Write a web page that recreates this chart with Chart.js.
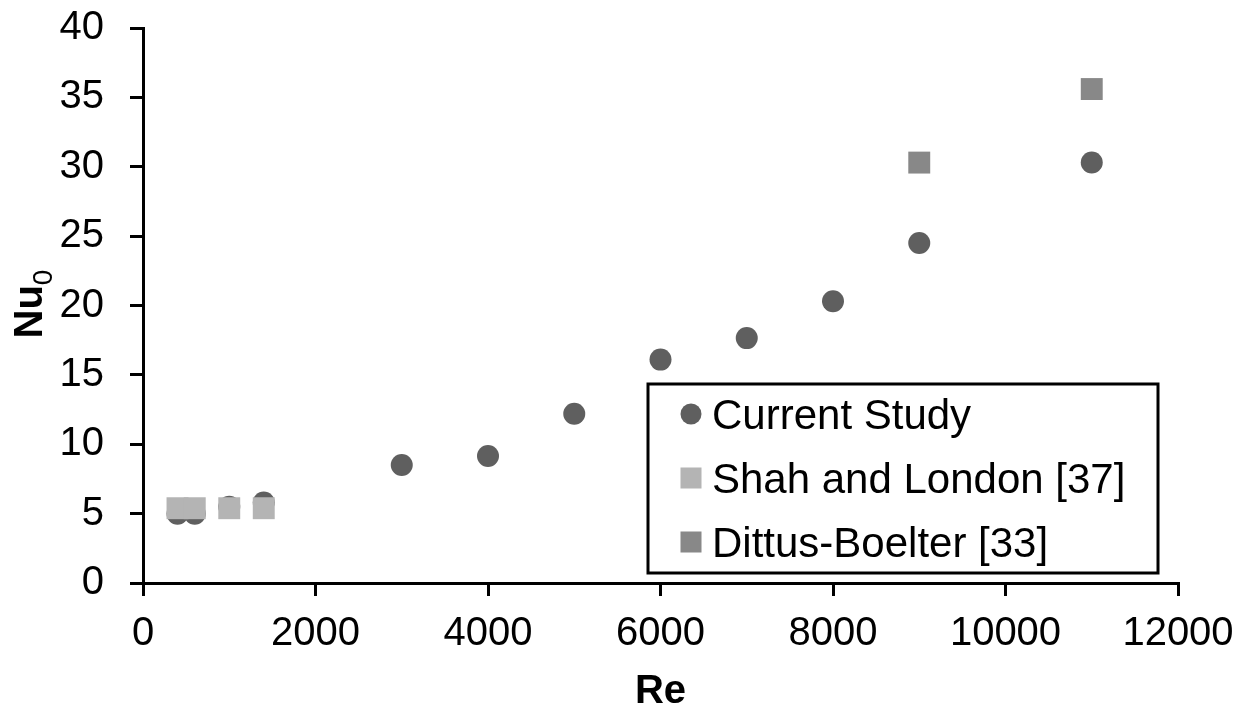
<!DOCTYPE html>
<html>
<head>
<meta charset="utf-8">
<script src="https://cdn.jsdelivr.net/npm/chart.js@4/dist/chart.umd.min.js"></script>
<style>
  html, body { margin: 0; padding: 0; background: #fff; }
  #wrap { width: 1248px; height: 708px; }
</style>
</head>
<body>
<div id="wrap"><canvas id="c"></canvas></div>
<script>
// Nu0 vs Re, three sources
const currentRe = [400, 600, 1000, 1400, 3000, 4000, 5000, 6000, 7000, 8000, 9000, 11000]
const currentNu = [5.0, 5.0, 5.5, 5.8, 8.5, 9.15, 12.2, 16.1, 17.65, 20.3, 24.5, 30.3]

const shahRe = [400, 600, 1000, 1400]
const shahNu = [5.39, 5.39, 5.39, 5.39]

const dittusRe = [9000, 11000]
const dittusNu = [30.3, 35.6]

const seriesLabels = ['Current Study', 'Shah and London [37]', 'Dittus-Boelter [33]']
const xTicks = [0, 2000, 4000, 6000, 8000, 10000, 12000]
const yTicks = [0, 5, 10, 15, 20, 25, 30, 35, 40]

const FONT = '"Liberation Sans", Arial, sans-serif'

const toPoints = (xs, ys) => xs.map((x, i) => ({ x: x, y: ys[i] }))

// legend box inside the plot, bottom right
const legendBox = {
  id: 'legendBox',
  afterDatasetsDraw(chart) {
    const ctx = chart.ctx
    const a = chart.chartArea
    const left = a.left + 505
    const top = a.top + 356
    const w = 510
    const h = 189
    ctx.save()
    ctx.fillStyle = '#fff'
    ctx.fillRect(left, top, w, h)
    ctx.lineWidth = 3
    ctx.strokeStyle = '#000'
    ctx.strokeRect(left, top, w, h)

    ctx.font = '42px ' + FONT
    ctx.textBaseline = 'alphabetic'
    ctx.textAlign = 'left'
    chart.data.datasets.forEach((ds, i) => {
      const base = top + 45 + i * 64
      const cy = base - 15
      const cx = left + 43
      ctx.fillStyle = ds.backgroundColor
      if (ds.pointStyle === 'circle') {
        ctx.beginPath()
        ctx.arc(cx, cy, 10.5, 0, Math.PI * 2)
        ctx.fill()
      } else {
        ctx.fillRect(cx - 10.5, cy - 10.5, 21, 21)
      }
      ctx.fillStyle = '#000'
      ctx.fillText(ds.label, left + 64, base)
    })
    ctx.restore()
  }
}

// axis titles: bold "Re" and "Nu" with subscript 0
const axisTitles = {
  id: 'axisTitles',
  afterDraw(chart) {
    const ctx = chart.ctx
    const a = chart.chartArea
    ctx.save()
    ctx.fillStyle = '#000'
    ctx.textBaseline = 'alphabetic'
    ctx.textAlign = 'center'
    ctx.font = 'bold 40px ' + FONT
    ctx.fillText('Re', (a.left + a.right) / 2, 703)

    ctx.translate(42, 304)
    ctx.rotate(-Math.PI / 2)
    ctx.textAlign = 'left'
    ctx.font = 'bold 40px ' + FONT
    const wNu = ctx.measureText('Nu').width
    ctx.font = '28px ' + FONT
    const wSub = ctx.measureText('0').width
    const start = -(wNu + wSub) / 2
    ctx.font = 'bold 40px ' + FONT
    ctx.fillText('Nu', start, 0)
    ctx.font = '28px ' + FONT
    ctx.fillText('0', start + wNu, 10)
    ctx.restore()
  }
}

const axisStyle = {
  border: { display: true, color: '#000', width: 3 },
  grid: { display: true, drawOnChartArea: false, drawTicks: true, tickLength: 13, color: '#000', lineWidth: 3 },
  title: { display: false }
}

new Chart(document.getElementById('c'), {
  type: 'scatter',
  data: {
    datasets: [
      {
        label: seriesLabels[0],
        data: toPoints(currentRe, currentNu),
        pointStyle: 'circle',
        pointRadius: 11,
        pointHoverRadius: 11,
        backgroundColor: '#5f5f5f',
        borderWidth: 0,
        order: 3
      },
      {
        label: seriesLabels[1],
        data: toPoints(shahRe, shahNu),
        pointStyle: 'rect',
        pointRadius: 15.5,
        pointHoverRadius: 15.5,
        backgroundColor: '#b4b4b4',
        borderWidth: 0,
        order: 1
      },
      {
        label: seriesLabels[2],
        data: toPoints(dittusRe, dittusNu),
        pointStyle: 'rect',
        pointRadius: 15.5,
        pointHoverRadius: 15.5,
        backgroundColor: '#888888',
        borderWidth: 0,
        order: 2
      }
    ]
  },
  options: {
    responsive: true,
    maintainAspectRatio: false,
    animation: false,
    layout: { padding: { left: 0, top: 28, right: 70, bottom: 0 } },
    plugins: {
      legend: { display: false },
      tooltip: { enabled: false }
    },
    scales: {
      x: {
        type: 'linear',
        min: 0,
        max: 12000,
        ...axisStyle,
        afterFit(scale) {
          scale.height = 125
          scale.paddingLeft = 0
          scale.paddingRight = 0
        },
        afterBuildTicks(scale) { scale.ticks = xTicks.map(v => ({ value: v })) },
        ticks: {
          padding: 14,
          color: '#000',
          font: { family: FONT, size: 40 },
          maxRotation: 0,
          autoSkip: false,
          callback: v => String(v)
        }
      },
      y: {
        type: 'linear',
        min: 0,
        max: 40,
        ...axisStyle,
        afterFit(scale) {
          scale.width = 143
          scale.paddingTop = 0
          scale.paddingBottom = 0
        },
        afterBuildTicks(scale) { scale.ticks = yTicks.map(v => ({ value: v })) },
        ticks: {
          padding: 26,
          color: '#000',
          font: { family: FONT, size: 40 },
          autoSkip: false,
          callback: v => String(v)
        }
      }
    }
  },
  plugins: [legendBox, axisTitles]
})
</script>
</body>
</html>
